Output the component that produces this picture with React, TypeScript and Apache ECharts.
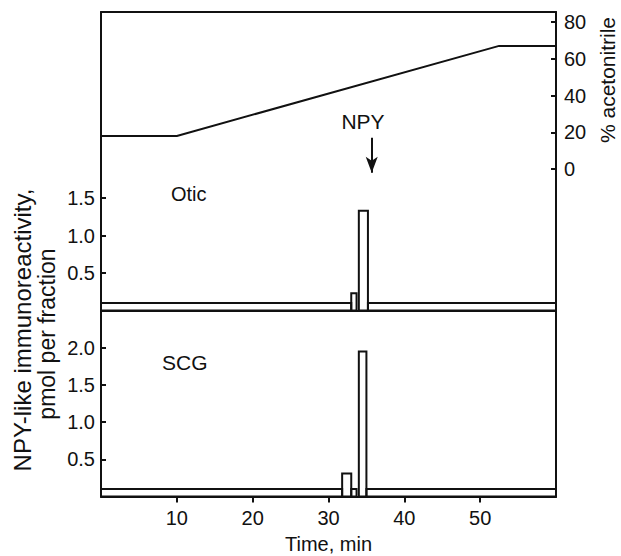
import React, { useEffect, useRef } from "react";
import * as echarts from "echarts";

// Gradient (% acetonitrile) vs time
const gradTime = [0, 10, 52.5, 60];
const gradPct = [18, 18, 67, 67];

// Otic fractions: start (min), end (min), NPY-LI (pmol/fraction)
const oticStart = [0, 33.0, 34.0, 35.2];
const oticEnd = [33.0, 33.7, 35.2, 60];
const oticValue = [0.1, 0.23, 1.33, 0.1];

// SCG fractions
const scgStart = [0, 31.8, 33.0, 34.0, 35.0];
const scgEnd = [31.8, 33.0, 33.7, 35.0, 60];
const scgValue = [0.1, 0.31, 0.1, 1.95, 0.1];

const timeTicks = [10, 20, 30, 40, 50];
const pctTicks = [0, 20, 40, 60, 80];
const oticTicks = [0.5, 1.0, 1.5];
const scgTicks = [0.5, 1.0, 1.5, 2.0];

const npyArrow = { time: 35.7, from: 17, to: -2 };

const FONT = "'Liberation Sans', Arial, Helvetica, sans-serif";
const BLACK = "#111";

export default function App() {
  const ref = useRef<HTMLDivElement>(null);
  useEffect(() => {
    if (!ref.current) return;
    const chart = echarts.init(ref.current, undefined, { renderer: "svg" });

    const axisLine = { show: true, onZero: false, lineStyle: { color: BLACK, width: 2 } };
    const renderRect = (params: any, api: any) => {
      const x0 = api.value(0);
      const x1 = api.value(1);
      const v = api.value(2);
      const p0 = api.coord([x0, v]);
      const p1 = api.coord([x1, 0]);
      return {
        type: "rect",
        shape: { x: p0[0], y: p0[1], width: p1[0] - p0[0], height: p1[1] - p0[1] },
        style: { fill: "none", stroke: BLACK, lineWidth: 2 },
      };
    };

    const option: any = {
      animation: false,
      backgroundColor: "#fff",
      textStyle: { fontFamily: FONT, color: BLACK },
      grid: [
        { left: 101, top: 12, width: 455, height: 298.5, containLabel: false, outerBoundsMode: "none" },
        { left: 101, top: 310.5, width: 455, height: 186, containLabel: false, outerBoundsMode: "none" },
      ],
      xAxis: [
        {
          type: "value", gridIndex: 0, min: 0, max: 60, position: "bottom",
          axisLine, axisTick: { show: false }, axisLabel: { show: false }, splitLine: { show: false },
        },
        {
          type: "value", gridIndex: 0, min: 0, max: 60, position: "top",
          axisLine, axisTick: { show: false }, axisLabel: { show: false }, splitLine: { show: false },
        },
        {
          type: "value", gridIndex: 1, min: 0, max: 60, position: "bottom",
          axisLine,
          axisTick: { show: true, inside: false, length: 6, lineStyle: { color: BLACK, width: 2 }, customValues: timeTicks },
          axisLabel: { show: true, fontSize: 20, color: BLACK, fontFamily: FONT, margin: 11, customValues: timeTicks },
          splitLine: { show: false },
          name: "Time, min", nameLocation: "middle", nameGap: 37,
          nameTextStyle: { fontSize: 20, color: BLACK, fontFamily: FONT },
        },
      ],
      yAxis: [
        {
          type: "value", gridIndex: 0, min: 0, max: 3.98, position: "left",
          axisLine,
          axisTick: { show: true, inside: true, length: 5, lineStyle: { color: BLACK, width: 2 }, customValues: oticTicks },
          axisLabel: {
            show: true, fontSize: 20, color: BLACK, fontFamily: FONT, margin: 6, customValues: oticTicks,
            formatter: (v: number) => v.toFixed(1),
          },
          splitLine: { show: false },
        },
        {
          type: "value", gridIndex: 0, min: -77, max: 85.44, position: "right",
          axisLine,
          axisTick: { show: true, inside: true, length: 5, lineStyle: { color: BLACK, width: 2 }, customValues: pctTicks },
          axisLabel: { show: true, fontSize: 20, color: BLACK, fontFamily: FONT, margin: 8, customValues: pctTicks },
          splitLine: { show: false },
        },
        {
          type: "value", gridIndex: 1, min: 0, max: 2.5, position: "left",
          axisLine,
          axisTick: { show: true, inside: true, length: 5, lineStyle: { color: BLACK, width: 2 }, customValues: scgTicks },
          axisLabel: {
            show: true, fontSize: 20, color: BLACK, fontFamily: FONT, margin: 6, customValues: scgTicks,
            formatter: (v: number) => v.toFixed(1),
          },
          splitLine: { show: false },
        },
        {
          type: "value", gridIndex: 1, min: 0, max: 2.5, position: "right",
          axisLine, axisTick: { show: false }, axisLabel: { show: false }, splitLine: { show: false },
        },
      ],
      series: [
        {
          type: "line", xAxisIndex: 0, yAxisIndex: 1,
          data: gradTime.map((t, i) => [t, gradPct[i]]),
          symbol: "none", lineStyle: { color: BLACK, width: 2 },
          markLine: {
            silent: true, symbol: ["none", "arrow"], symbolSize: [9, 16],
            lineStyle: { color: BLACK, width: 2, type: "solid" },
            label: { show: false },
            data: [[{ coord: [npyArrow.time, npyArrow.from] }, { coord: [npyArrow.time, npyArrow.to] }]],
          },
        },
        {
          type: "custom", xAxisIndex: 0, yAxisIndex: 0,
          renderItem: renderRect,
          encode: { x: [0, 1], y: 2 },
          data: oticStart.map((s, i) => [s, oticEnd[i], oticValue[i]]),
        },
        {
          type: "custom", xAxisIndex: 2, yAxisIndex: 2,
          renderItem: renderRect,
          encode: { x: [0, 1], y: 2 },
          data: scgStart.map((s, i) => [s, scgEnd[i], scgValue[i]]),
        },
      ],
      graphic: [
        {
          type: "text", x: 363, y: 121,
          style: { text: "NPY", fontSize: 21, fontFamily: FONT, fill: BLACK, textAlign: "center", textVerticalAlign: "middle" },
        },
        {
          type: "text", x: 171, y: 194,
          style: { text: "Otic", fontSize: 20, fontFamily: FONT, fill: BLACK, textAlign: "left", textVerticalAlign: "middle" },
        },
        {
          type: "text", x: 162, y: 362,
          style: { text: "SCG", fontSize: 21, fontFamily: FONT, fill: BLACK, textAlign: "left", textVerticalAlign: "middle" },
        },
        {
          type: "text", x: 22, y: 330, rotation: Math.PI / 2,
          style: { text: "NPY-like immunoreactivity,", fontSize: 24, fontFamily: FONT, fill: BLACK, textAlign: "center", textVerticalAlign: "middle" },
        },
        {
          type: "text", x: 47, y: 334, rotation: Math.PI / 2,
          style: { text: "pmol per fraction", fontSize: 23, fontFamily: FONT, fill: BLACK, textAlign: "center", textVerticalAlign: "middle" },
        },
        {
          type: "text", x: 607, y: 80, rotation: Math.PI / 2,
          style: { text: "% acetonitrile", fontSize: 21, fontFamily: FONT, fill: BLACK, textAlign: "center", textVerticalAlign: "middle" },
        },
      ],
    };
    chart.setOption(option);
    return () => chart.dispose();
  }, []);
  return (
    <div
      ref={ref}
      style={{ position: "absolute", left: 0, top: 0, width: 621, height: 556, background: "#fff" }}
    />
  );
}
